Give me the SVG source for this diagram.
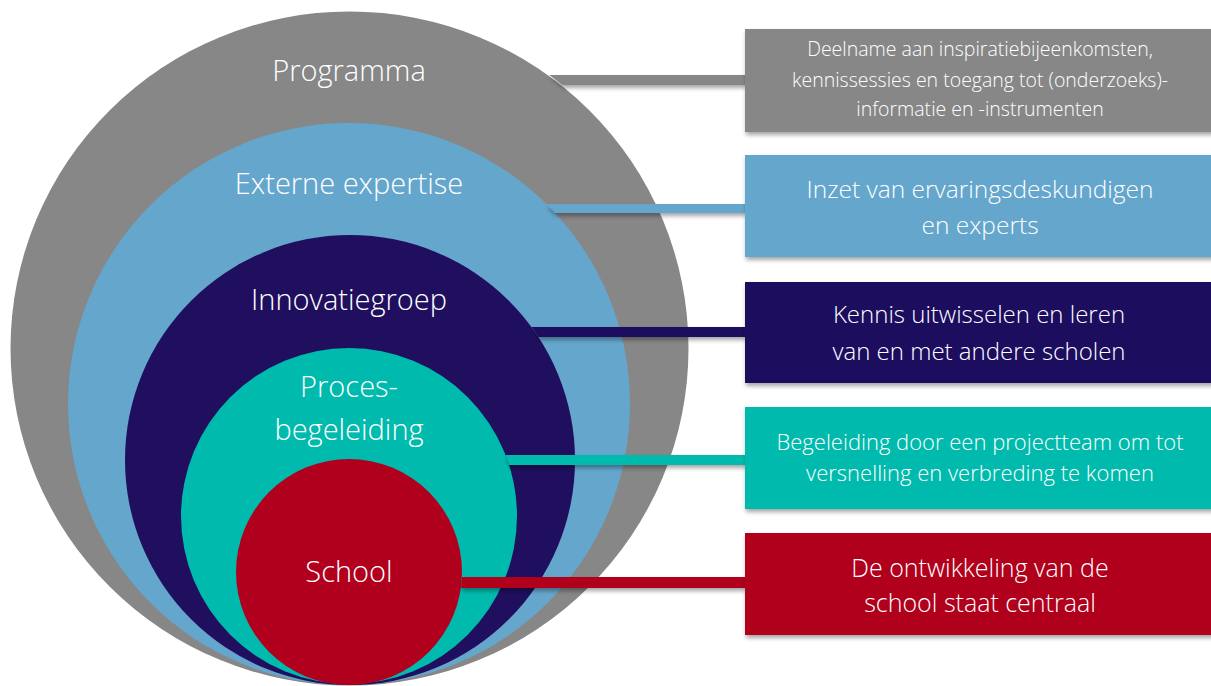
<svg xmlns="http://www.w3.org/2000/svg" width="1211" height="686" viewBox="0 0 1211 686">
<defs>
<filter id="sh" x="-5%" y="-20%" width="110%" height="160%">
<feDropShadow dx="1" dy="3" stdDeviation="2" flood-color="#000" flood-opacity="0.35"/>
</filter>
<style>
.lbl{font-family:"Open Sans","Lato","Liberation Sans",sans-serif;font-weight:300;fill:#fff;text-anchor:middle}
.c{font-size:29px}
.gray{fill:#878787}.blue{fill:#65a6cc}.navy{fill:#1f0f5e}.teal{fill:#00bbad}.red{fill:#b1001e}
</style>
</defs>
<rect width="1211" height="686" fill="#fff"/>
<g id="circle-programma"><ellipse class="gray" cx="349.5" cy="348.5" rx="339" ry="337"/><text class="lbl c" x="349" y="81">Programma</text></g>
<g id="circle-externe"><circle class="blue" cx="349" cy="404" r="281"/><text class="lbl c" x="349" y="194">Externe expertise</text></g>
<g id="circle-innovatie"><circle class="navy" cx="350" cy="460" r="225"/><text class="lbl c" x="349" y="310">Innovatiegroep</text></g>
<g id="circle-proces"><circle class="teal" cx="349" cy="516" r="168"/><text class="lbl c" x="349" y="397">Proces-</text><text class="lbl c" x="349" y="440">begeleiding</text></g>
<g id="circle-school"><ellipse class="red" cx="349" cy="572" rx="113" ry="113"/><text class="lbl c" x="349" y="582">School</text></g>
<g id="connectors" filter="url(#sh)">
<path class="gray" d="M549.3,75 L746,75 L746,85 L562.3,85 A337,337 0 0 0 549.3,75Z"/>
<path class="blue" d="M546.4,204 L746,204 L746,213 L555.1,213 A281,281 0 0 0 546.4,204Z"/>
<path class="navy" d="M531.5,327 L746,327 L746,337 L538.4,337 A225,225 0 0 0 531.5,327Z"/>
<path class="teal" d="M505.5,455 L746,455 L746,465 L509.1,465 A168,168 0 0 0 505.5,455Z"/>
<path class="red" d="M461.9,577 L746,577 L746,588 L461,588 A113,113 0 0 0 461.9,577Z"/>
</g>
<g id="box-programma"><rect class="gray" x="745" y="29" width="470" height="103" filter="url(#sh)"/>
<text class="lbl" x="980" y="56" font-size="19.5">Deelname aan inspiratiebijeenkomsten,</text>
<text class="lbl" x="980" y="87" font-size="19.5">kennissessies en toegang tot (onderzoeks)-</text>
<text class="lbl" x="980" y="116" font-size="19.5">informatie en -instrumenten</text></g>
<g id="box-externe"><rect class="blue" x="745" y="155" width="470" height="102" filter="url(#sh)"/>
<text class="lbl" x="980" y="198" font-size="24.5">Inzet van ervaringsdeskundigen</text>
<text class="lbl" x="980" y="234" font-size="24.5">en experts</text></g>
<g id="box-innovatie"><rect class="navy" x="745" y="282" width="470" height="101" filter="url(#sh)"/>
<text class="lbl" x="979" y="323" font-size="24">Kennis uitwisselen en leren</text>
<text class="lbl" x="979" y="360" font-size="24">van en met andere scholen</text></g>
<g id="box-proces"><rect class="teal" x="745" y="407" width="470" height="102" filter="url(#sh)"/>
<text class="lbl" x="980" y="450" font-size="22">Begeleiding door een projectteam om tot</text>
<text class="lbl" x="980" y="481" font-size="22">versnelling en verbreding te komen</text></g>
<g id="box-school"><rect class="red" x="745" y="533" width="470" height="102" filter="url(#sh)"/>
<text class="lbl" x="980" y="577" font-size="25">De ontwikkeling van de</text>
<text class="lbl" x="980" y="612" font-size="25">school staat centraal</text></g>
</svg>
